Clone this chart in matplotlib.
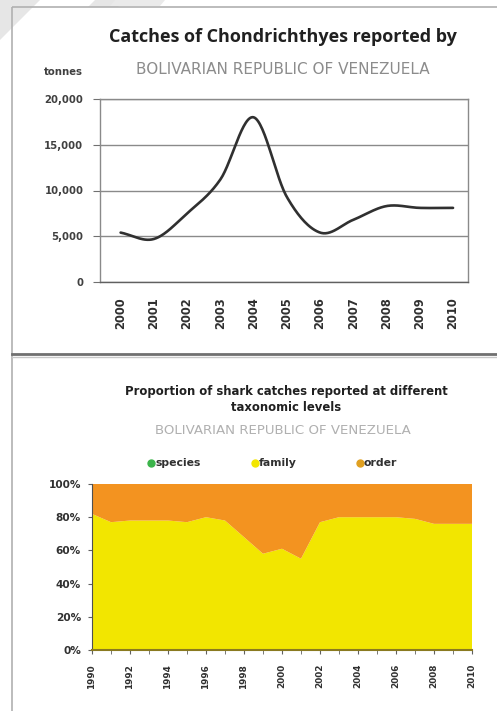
import numpy as np
import matplotlib
matplotlib.use("Agg")
import matplotlib.pyplot as plt
from matplotlib.patches import Rectangle, Polygon
from matplotlib.lines import Line2D

plt.rcParams['font.family'] = ['DejaVu Sans']

# ---- data: top chart ----
years_top = ['2000', '2001', '2002', '2003', '2004', '2005', '2006', '2007', '2008', '2009', '2010']
catches = [5400, 4700, 7500, 11200, 18000, 9300, 5400, 6800, 8300, 8100, 8100]
y_ticks_top = [0, 5000, 10000, 15000, 20000]
y_ticklabels_top = ['0', '5,000', '10,000', '15,000', '20,000']

# ---- data: bottom chart ----
years_bot = list(range(1990, 2011))
family_pct = [82, 77, 78, 78, 78, 77, 80, 78, 68, 58, 61, 55, 77, 80, 80, 80, 80, 79, 76, 76, 76]
species_pct = [0] * 21
order_pct = [100 - f - s for f, s in zip(family_pct, species_pct)]
x_ticklabels_bot = [str(y) for y in range(1990, 2011, 2)]
y_ticklabels_bot = ['0%', '20%', '40%', '60%', '80%', '100%']
legend_labels = ['species', 'family', 'order']
legend_colors = ['#3cb44b', '#f2e600', '#e0a020']

W, H = 497, 711
fig = plt.figure(figsize=(W / 100, H / 100), dpi=100)
fig.patch.set_facecolor('white')

def fx(px):
    return px / W

def fy(py):
    return 1 - py / H

# background decorations (page frame)
bg = fig.add_axes([0, 0, 1, 1], zorder=-10)
bg.set_xlim(0, W)
bg.set_ylim(H, 0)
bg.axis('off')
bg.add_patch(Polygon([[0, 0], [40, 0], [12, 28], [0, 40]], closed=True, color='#e6e6e6', lw=0))
bg.add_patch(Polygon([[95, 0], [125, 0], [118, 7], [88, 7]], closed=True, color='#e6e6e6', lw=0))
bg.add_patch(Polygon([[115, 0], [165, 0], [160, 6], [110, 6]], closed=True, color='#eaeaea', lw=0))
bg.add_patch(Rectangle((12, 7), 490, 710, fill=False, ec='#b0b0b0', lw=1.2))
bg.plot([12, 497], [354, 354], color='#707070', lw=2.0)
bg.plot([12, 497], [357, 357], color='#c8c8c8', lw=1.0)

# legend markers (bottom chart) drawn on background in pixel coords
for xm, lab, col in zip([151, 255, 360], legend_labels, legend_colors):
    bg.plot([xm], [463], marker='o', ms=5, color=col, ls='')
    bg.text(xm + 4, 463, lab, ha='left', va='center', fontsize=7.8, fontweight='bold', color='#303030')

# ---------- top chart ----------
ax1 = fig.add_axes([fx(100), fy(282), fx(468) - fx(100), fy(99) - fy(282)])
xi = np.arange(len(catches))

def catmull(xs, ys, n=30):
    xs = np.asarray(xs, float)
    ys = np.asarray(ys, float)
    px = np.concatenate([[2 * xs[0] - xs[1]], xs, [2 * xs[-1] - xs[-2]]])
    py = np.concatenate([[2 * ys[0] - ys[1]], ys, [2 * ys[-1] - ys[-2]]])
    ox, oy = [], []
    for i in range(1, len(px) - 2):
        t = np.linspace(0, 1, n, endpoint=False)
        for arr, out in ((px, ox), (py, oy)):
            p0, p1, p2, p3 = arr[i - 1], arr[i], arr[i + 1], arr[i + 2]
            out.extend(0.5 * ((2 * p1) + (-p0 + p2) * t + (2 * p0 - 5 * p1 + 4 * p2 - p3) * t ** 2
                              + (-p0 + 3 * p1 - 3 * p2 + p3) * t ** 3))
    ox.append(xs[-1])
    oy.append(ys[-1])
    return np.array(ox), np.array(oy)

sx, sy = catmull(xi, catches)
ax1.plot(sx, sy, color='#303030', lw=1.9, solid_capstyle='round')
ax1.set_xlim(-0.62, 10.45)
ax1.set_ylim(0, 20000)
ax1.set_yticks(y_ticks_top)
ax1.set_yticklabels(y_ticklabels_top, fontsize=7.3, color='#404040', fontweight='bold')
ax1.set_xticks(xi)
ax1.set_xticklabels(years_top, rotation=90, fontsize=8.3, color='#303030', fontweight='bold')
ax1.yaxis.grid(True, color='#8a8a8a', lw=1.0)
ax1.set_axisbelow(True)
ax1.tick_params(axis='x', length=0, pad=11)
ax1.tick_params(axis='y', length=5, color='#707070', pad=7)
for s in ax1.spines.values():
    s.set_color('#8a8a8a')
    s.set_linewidth(1.0)
ax1.spines['bottom'].set_color('#606060')

fig.text(fx(283), fy(37), 'Catches of Chondrichthyes reported by', ha='center', va='center',
         fontsize=13, fontweight='bold', color='#202020', family='Open Sans')
fig.text(fx(283), fy(69), 'BOLIVARIAN REPUBLIC OF VENEZUELA', ha='center', va='center',
         fontsize=11, color='#8c8c8c')
fig.text(fx(63), fy(72), 'tonnes', ha='center', va='center', fontsize=7.3,
         fontweight='bold', color='#404040')

# ---------- bottom chart ----------
ax2 = fig.add_axes([fx(92), fy(650), fx(472) - fx(92), fy(484) - fy(650)])
ax2.stackplot(years_bot, species_pct, family_pct, order_pct,
              colors=['#3cb44b', '#f2e600', '#f39320'], lw=0)
ax2.set_xlim(1990, 2010)
ax2.set_ylim(0, 100)
ax2.set_yticks([0, 20, 40, 60, 80, 100])
ax2.set_yticklabels(y_ticklabels_bot, fontsize=7.6, color='#303030', fontweight='bold')
ax2.set_xticks(list(range(1990, 2011, 2)))
ax2.set_xticks(years_bot, minor=True)
ax2.set_xticklabels(x_ticklabels_bot, rotation=90, fontsize=6.4, color='#303030', fontweight='bold')
ax2.tick_params(axis='x', which='both', length=3, color='#606060', pad=7)
ax2.tick_params(axis='y', length=3, color='#606060', pad=5)
for k in ['top', 'right']:
    ax2.spines[k].set_visible(False)
ax2.spines['left'].set_color('#505050')
ax2.spines['bottom'].set_color('#8a7a20')
ax2.spines['bottom'].set_linewidth(1.5)

fig.text(fx(286), fy(391), 'Proportion of shark catches reported at different', ha='center',
         va='center', fontsize=8.4, fontweight='bold', color='#202020')
fig.text(fx(286), fy(407), 'taxonomic levels', ha='center', va='center', fontsize=8.4,
         fontweight='bold', color='#202020')
fig.text(fx(283), fy(431), 'BOLIVARIAN REPUBLIC OF VENEZUELA', ha='center', va='center',
         fontsize=9.6, color='#b0b0b0')

fig.savefig('out.png', dpi=100, facecolor='white')
